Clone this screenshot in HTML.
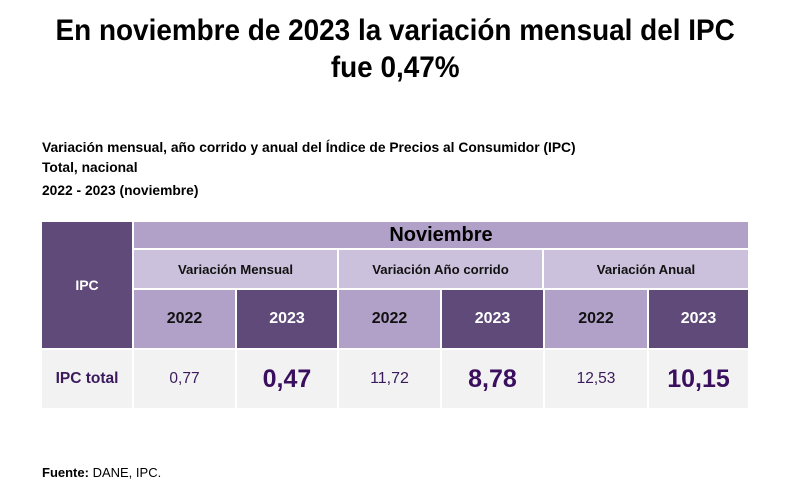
<!DOCTYPE html>
<html><head><meta charset="utf-8"><style>
html,body{margin:0;padding:0;background:#fff;}
body{width:810px;height:499px;position:relative;overflow:hidden;font-family:"Liberation Sans",sans-serif;}
.t{position:absolute;left:-10px;width:810px;text-align:center;font-weight:bold;font-size:30px;color:#000;line-height:38px;white-space:nowrap;}
.t span{display:inline-block;transform:scaleX(0.93);transform-origin:center;}
.s{position:absolute;left:42px;font-weight:bold;font-size:13.8px;color:#000;white-space:nowrap;line-height:16px;}
.c{position:absolute;display:flex;align-items:center;justify-content:center;font-weight:bold;white-space:nowrap;}
.dk{background:#5f4a79;color:#fff;}
.md{background:#b1a1c8;color:#111;}
.lt{background:#ccc1dc;color:#111;}
.gr{background:#f2f2f2;color:#3a1a5c;}
</style></head><body>
<div class="t" style="top:12px;"><span>En noviembre de 2023 la variación mensual del IPC</span></div>
<div class="t" style="top:49px;"><span>fue 0,47%</span></div>

<div class="s" style="top:140px;">Variación mensual, año corrido y anual del Índice de Precios al Consumidor (IPC)</div>
<div class="s" style="top:160px;">Total, nacional</div>
<div class="s" style="top:183px;">2022 - 2023 (noviembre)</div>

<!-- IPC header -->
<div class="c dk" style="left:42px;top:222px;width:90px;height:126px;font-size:14px;">IPC</div>
<!-- Noviembre -->
<div class="c md" style="left:134px;top:222px;width:614px;height:26px;font-size:20px;color:#000;">Noviembre</div>
<!-- subheaders -->
<div class="c lt" style="left:134px;top:250px;width:203px;height:38px;font-size:13.2px;">Variación Mensual</div>
<div class="c lt" style="left:339px;top:250px;width:203px;height:38px;font-size:13.2px;">Variación Año corrido</div>
<div class="c lt" style="left:544px;top:250px;width:204px;height:38px;font-size:13.2px;">Variación Anual</div>
<!-- years -->
<div class="c md" style="left:134px;top:290px;width:101px;height:58px;font-size:16px;">2022</div>
<div class="c dk" style="left:237px;top:290px;width:100px;height:58px;font-size:16px;">2023</div>
<div class="c md" style="left:339px;top:290px;width:101px;height:58px;font-size:16px;">2022</div>
<div class="c dk" style="left:442px;top:290px;width:101px;height:58px;font-size:16px;">2023</div>
<div class="c md" style="left:545px;top:290px;width:102px;height:58px;font-size:16px;">2022</div>
<div class="c dk" style="left:649px;top:290px;width:99px;height:58px;font-size:16px;">2023</div>
<!-- data -->
<div class="c gr" style="left:42px;top:350px;width:90px;height:58px;font-size:15.5px;">IPC total</div>
<div class="c gr" style="left:134px;top:350px;width:101px;height:58px;font-size:15.5px;font-weight:normal;">0,77</div>
<div class="c gr" style="left:237px;top:350px;width:100px;height:58px;font-size:25px;color:#3a0f5e;">0,47</div>
<div class="c gr" style="left:339px;top:350px;width:101px;height:58px;font-size:16px;font-weight:normal;">11,72</div>
<div class="c gr" style="left:442px;top:350px;width:101px;height:58px;font-size:25px;color:#3a0f5e;">8,78</div>
<div class="c gr" style="left:545px;top:350px;width:102px;height:58px;font-size:15.5px;font-weight:normal;">12,53</div>
<div class="c gr" style="left:649px;top:350px;width:99px;height:58px;font-size:25px;color:#3a0f5e;">10,15</div>

<div class="s" style="top:465px;font-weight:normal;font-size:13px;"><b>Fuente:</b> DANE, IPC.</div>
</body></html>
